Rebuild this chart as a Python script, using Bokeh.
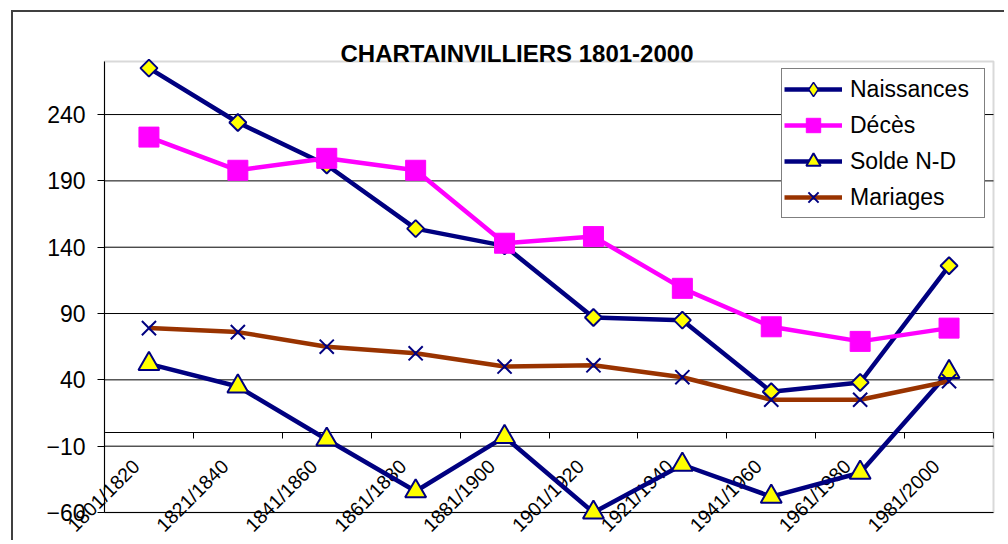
import math
from bokeh.plotting import figure
from bokeh.models import (Range1d, LinearAxis, FixedTicker, Legend, LegendItem, Title, Label,
                          BoxAnnotation)
from bokeh.embed import file_html
from bokeh.resources import INLINE

periods = ["1801/1820", "1821/1840", "1841/1860", "1861/1880", "1881/1900",
           "1901/1920", "1921/1940", "1941/1960", "1961/1980", "1981/2000"]
naissances = [275, 234, 202, 154, 141, 87, 85, 31, 38, 126]
deces = [223, 198, 207, 198, 143, 148, 109, 80, 69, 79]
solde = [52, 35, -5, -44, -3, -60, -24, -48, -30, 46]
mariages = [79, 76, 65, 60, 50, 51, 42, 25, 25, 39]
y_ticks = [-60, -10, 40, 90, 140, 190, 240]
y_min, y_max = -60, 280
title_text = "CHARTAINVILLIERS 1801-2000"

FONT = "Liberation Sans"
NAVY = "#000080"
MAGENTA = "#FF00FF"
BROWN = "#993300"
YELLOW = "#FFFF00"

n = len(periods)
xs = [i + 0.5 for i in range(n)]

# layout (pixels): the drawing frame covers the canvas below the title band so the
# rotated category labels, value labels and top markers are not clipped; the
# plot area is a box inside it.
W, H = 993, 530
TOP = 40                          # title band height (frame starts here)
AREA_TOP, AREA_BOTTOM = 49, 500   # plot-area edges inside the canvas
AREA_LEFT, AREA_RIGHT = 91, 980
px_x = (AREA_RIGHT - AREA_LEFT) / n
px_y = (AREA_BOTTOM - AREA_TOP) / (y_max - y_min)
x_start = -AREA_LEFT / px_x
x_end = n + (W - AREA_RIGHT) / px_x
y_start = y_min - (H - AREA_BOTTOM) / px_y
y_end = y_max + (AREA_TOP - TOP) / px_y

p = figure(width=W, height=H, output_backend="svg", toolbar_location=None,
           x_range=Range1d(x_start, x_end), y_range=Range1d(y_start, y_end),
           x_axis_location=None, y_axis_location=None,
           min_border_left=0, min_border_right=0, min_border_top=TOP, min_border_bottom=0)
p.styles = {"margin-left": "11px", "margin-top": "10px",
            "border-left": "2px solid #404040", "border-top": "2px solid #404040"}
p.background_fill_color = "white"
p.border_fill_color = "white"
p.outline_line_color = None
p.grid.visible = False

p.title = Title(text=title_text, align="left", offset=327,
                standoff=-10 - 2 * (AREA_TOP - TOP),
                text_font=FONT, text_font_style="bold", text_font_size="24px",
                text_color="black", vertical_align="bottom")

# plot-area border
p.add_layout(BoxAnnotation(left=0, right=n, bottom=y_min, top=y_max,
                           fill_color=None, line_color="#808080", line_width=2,
                           level="underlay"))

# horizontal gridlines limited to the plot area
p.segment(x0=0, x1=n, y0=y_ticks, y1=y_ticks, line_color="black", line_width=1)

# value axis
yax = LinearAxis(fixed_location=0, bounds=(y_min, y_max), ticker=FixedTicker(ticks=y_ticks),
                 major_label_text_font=FONT, major_label_text_font_size="23px",
                 major_label_text_color="black", major_tick_out=7, major_tick_in=0,
                 minor_tick_line_color=None, axis_line_color="black",
                 major_tick_line_color="black", major_label_standoff=12)
p.add_layout(yax, "left")

# category axis crossing at 0, tick marks between categories
tick_axis = LinearAxis(fixed_location=0, bounds=(0, n),
                       ticker=FixedTicker(ticks=[], minor_ticks=list(range(n + 1))),
                       minor_tick_out=6, minor_tick_in=0, minor_tick_line_color="black",
                       major_tick_line_color=None, axis_line_color="black", level="underlay")
p.add_layout(tick_axis, "below")

# rotated category labels hanging below the axis line (drawn beneath the series)
for xc, lab in zip(xs, periods):
    p.add_layout(Label(x=xc, y=0, text=lab, angle=math.pi / 4,
                       text_align="right", text_baseline="middle",
                       x_offset=-13, y_offset=-30, level="underlay",
                       text_font=FONT, text_font_size="19.5px", text_color="black"))

l1 = p.line(xs, naissances, line_color=NAVY, line_width=4.5)
# Bokeh diamond (for the legend swatch) sits fully hidden under the rotated square
d1 = p.scatter(xs, naissances, marker="diamond", size=15,
               fill_color=YELLOW, line_color=NAVY, line_width=1.5)
m1 = p.scatter(xs, naissances, marker="square", angle=math.pi / 4, size=12,
               fill_color=YELLOW, line_color=NAVY, line_width=2)
l2 = p.line(xs, deces, line_color=MAGENTA, line_width=4.5)
m2 = p.scatter(xs, deces, marker="square", size=20, fill_color=MAGENTA, line_color=MAGENTA)
l3 = p.line(xs, solde, line_color=NAVY, line_width=4.5)
m3 = p.scatter(xs, solde, marker="triangle", size=21,
               fill_color=YELLOW, line_color=NAVY, line_width=2)
l4 = p.line(xs, mariages, line_color=BROWN, line_width=4.5)
m4 = p.scatter(xs, mariages, marker="x", size=20, line_color=NAVY, line_width=2)

legend = Legend(items=[LegendItem(label="Naissances", renderers=[l1, d1]),
                       LegendItem(label="Décès", renderers=[l2, m2]),
                       LegendItem(label="Solde N-D", renderers=[l3, m3]),
                       LegendItem(label="Mariages", renderers=[l4, m4])],
                location=(768, 324), orientation="vertical",
                border_line_color="black", border_line_width=1,
                background_fill_color="white", background_fill_alpha=1,
                padding=2, spacing=0, margin=0,
                glyph_width=58, glyph_height=36, label_height=36,
                label_width=132, label_standoff=8,
                label_text_font=FONT, label_text_font_size="23px",
                label_text_color="black")
p.add_layout(legend)

open("out.html", "w").write(file_html(p, INLINE))
